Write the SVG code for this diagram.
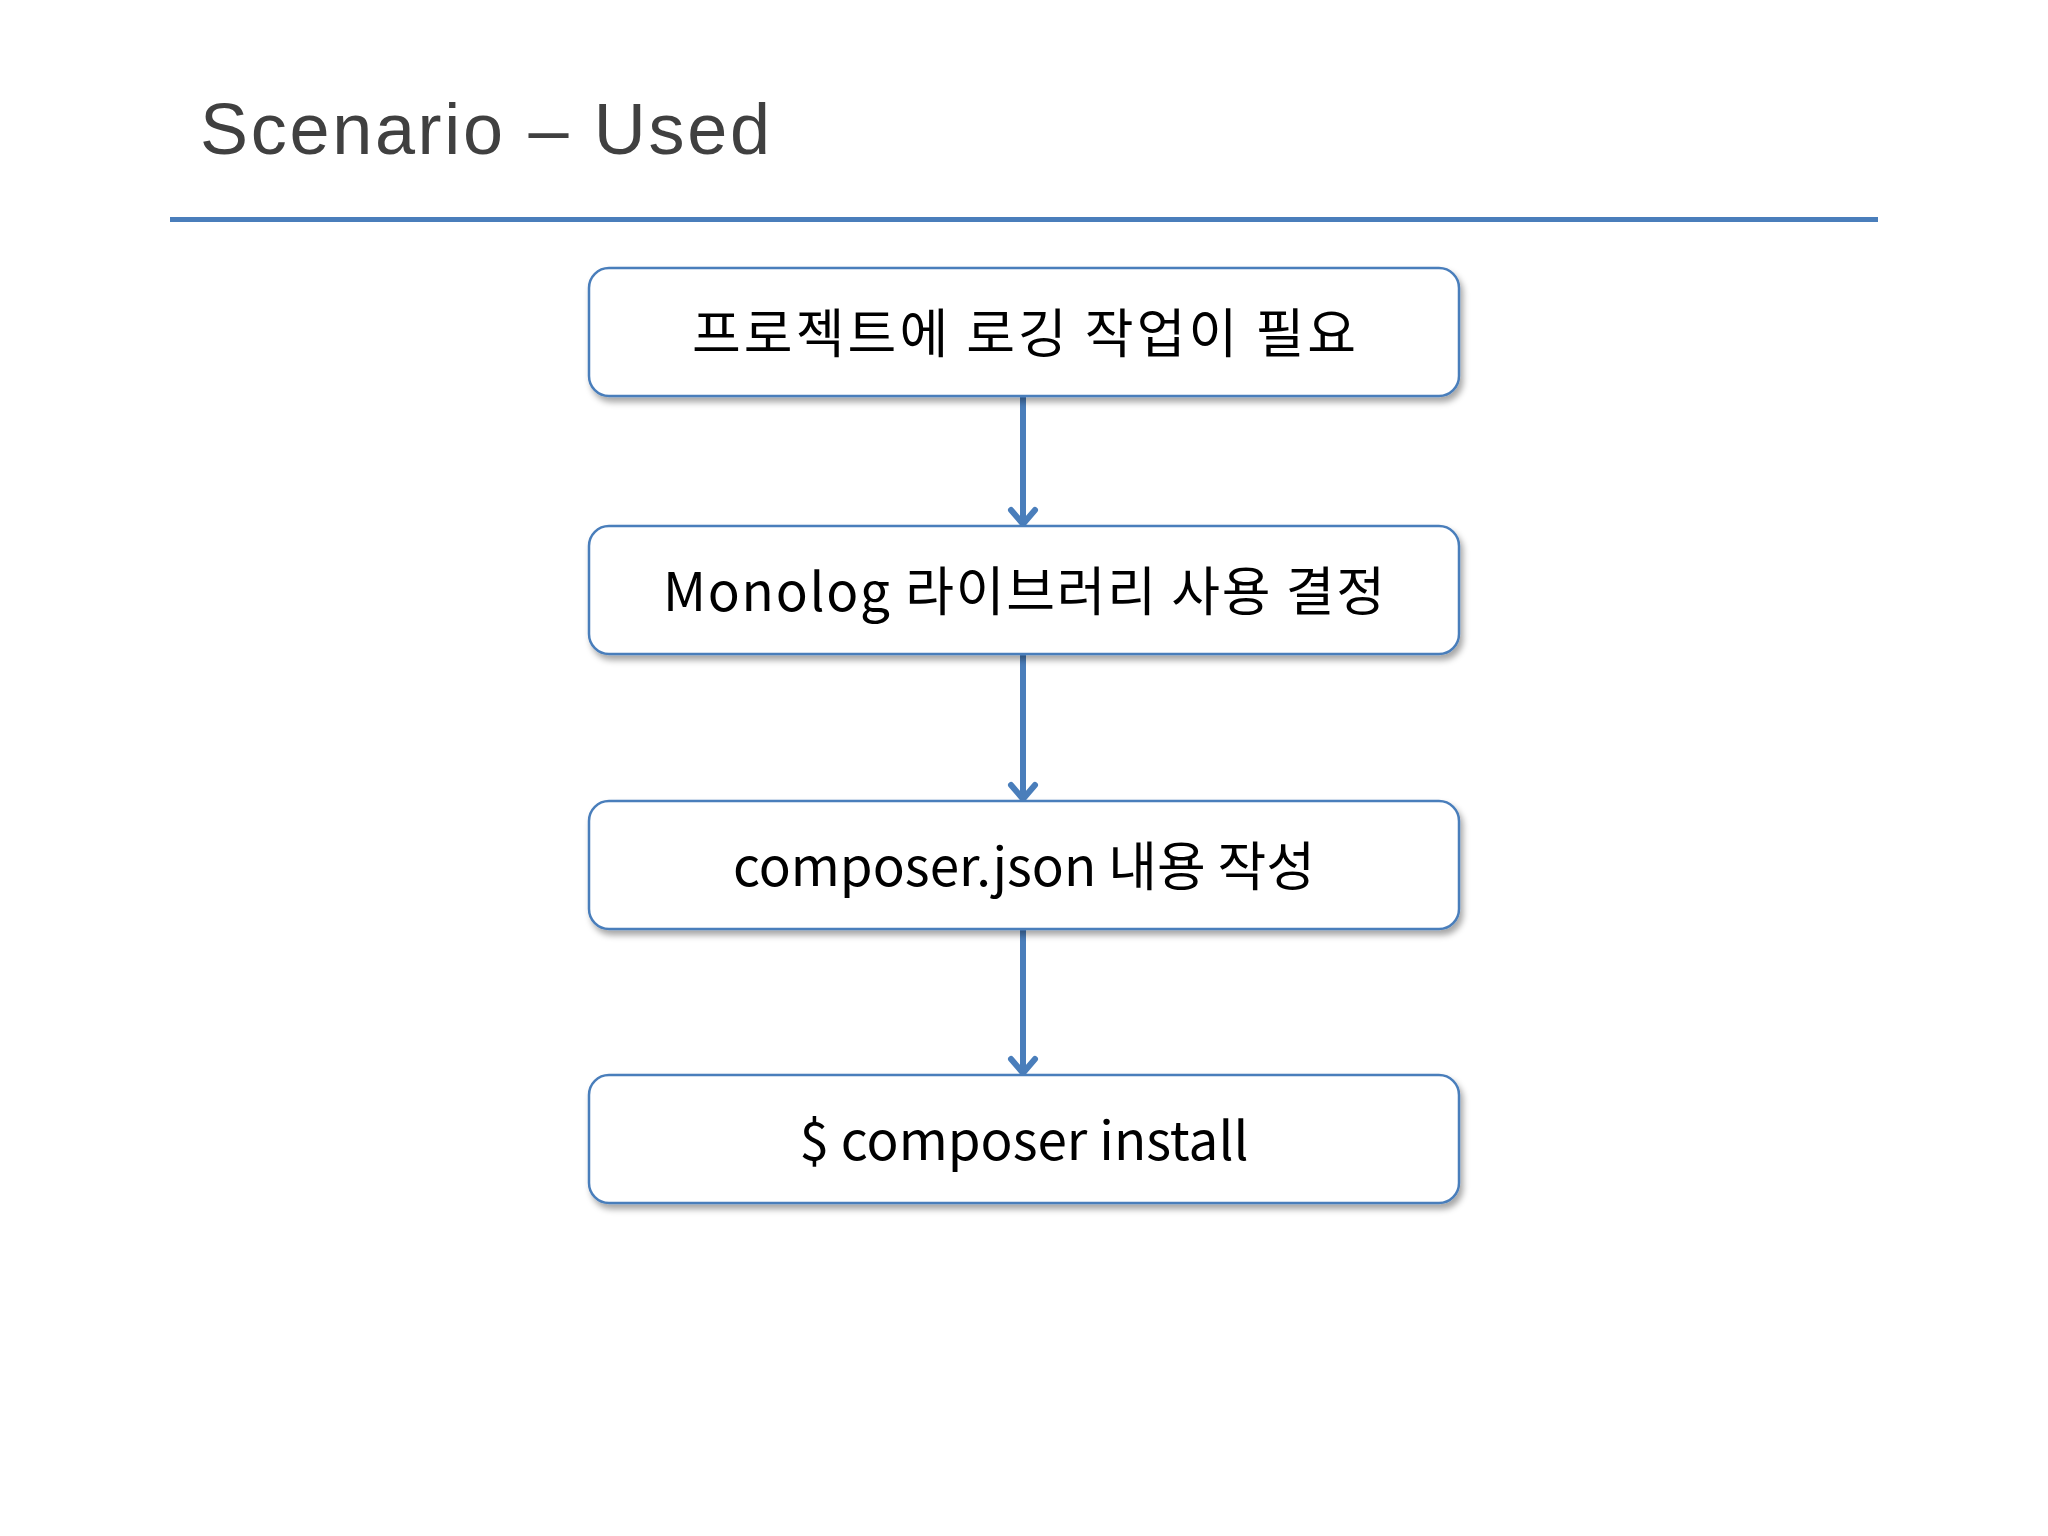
<svg xmlns="http://www.w3.org/2000/svg" width="2048" height="1536" viewBox="0 0 2048 1536">
<defs>
<style>
.box{fill:#ffffff;stroke:#4a7ebb;stroke-width:2.5;filter:url(#sh)}
.lbl{font-family:"Noto Sans CJK KR","Open Sans",sans-serif;font-size:53px;fill:#000000;text-anchor:middle}
.title{font-family:"Liberation Sans","Noto Sans CJK KR",sans-serif;font-size:72px;fill:#404040}
.conn{stroke:#4a7ebb;stroke-width:6;fill:none;marker-end:url(#arr)}
</style>
<filter id="sh" x="-5%" y="-10%" width="115%" height="130%">
<feDropShadow dx="3" dy="5" stdDeviation="3" flood-color="#000000" flood-opacity="0.35"/>
</filter>
<marker id="arr" markerUnits="userSpaceOnUse" markerWidth="32" markerHeight="32" viewBox="0 0 32 32" refX="28" refY="16" orient="auto">
<path d="M14,4 L28,16 L14,28" fill="none" stroke="#4a7ebb" stroke-width="6" stroke-linecap="round" stroke-linejoin="round"/>
</marker>
</defs>
<rect width="2048" height="1536" fill="#ffffff"/>
<g id="header">
<text class="title" x="200" y="154" textLength="570" lengthAdjust="spacing">Scenario – Used</text>
<line x1="170" y1="219.5" x2="1878" y2="219.5" stroke="#4a7ebb" stroke-width="5"/>
</g>
<g id="connectors">
<line class="conn" x1="1023" y1="397" x2="1023" y2="524"/>
<line class="conn" x1="1023" y1="655" x2="1023" y2="799"/>
<line class="conn" x1="1023" y1="930" x2="1023" y2="1073"/>
</g>
<g id="node1">
<rect class="box" x="589" y="268" width="870" height="128" rx="20"/>
<text class="lbl" x="1024" y="353" textLength="664" lengthAdjust="spacing">프로젝트에 로깅 작업이 필요</text>
</g>
<g id="node2">
<rect class="box" x="589" y="526" width="870" height="128" rx="20"/>
<text class="lbl" x="1024" y="611" textLength="722" lengthAdjust="spacing">Monolog 라이브러리 사용 결정</text>
</g>
<g id="node3">
<rect class="box" x="589" y="801" width="870" height="128" rx="20"/>
<text class="lbl" x="1024" y="886">composer.json 내용 작성</text>
</g>
<g id="node4">
<rect class="box" x="589" y="1075" width="870" height="128" rx="20"/>
<text class="lbl" x="1024" y="1160">$ composer install</text>
</g>
</svg>
